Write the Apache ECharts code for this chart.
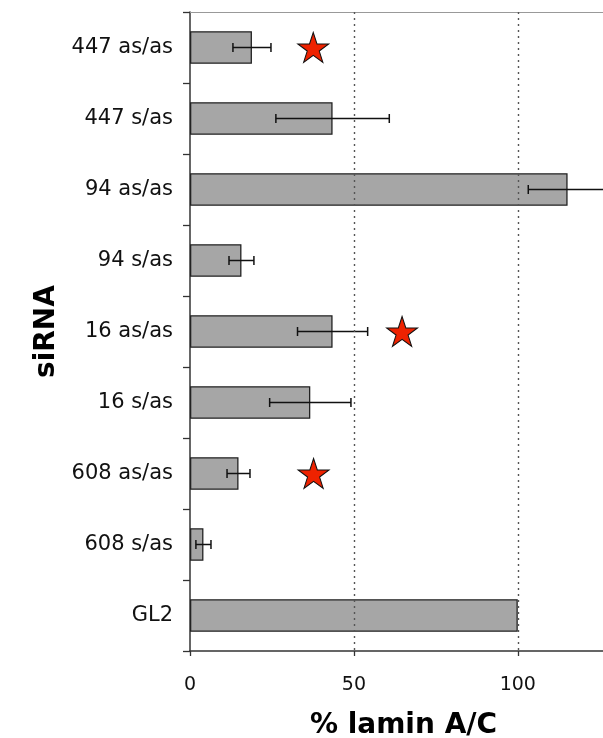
<!DOCTYPE html>
<html>
<head>
<meta charset="utf-8">
<script src="https://cdn.jsdelivr.net/npm/echarts@6/dist/echarts.min.js"></script>
<style>
html,body{margin:0;padding:0;background:#fff;}
#chart{width:603px;height:738px;}
</style>
</head>
<body>
<div id="chart"></div>
<script>
// Categories listed top to bottom
const categories = ['447 as/as', '447 s/as', '94 as/as', '94 s/as', '16 as/as', '16 s/as', '608 as/as', '608 s/as', 'GL2'];
// % lamin A/C
const values = [18.9, 43.5, 115.2, 15.7, 43.5, 36.7, 14.8, 4.1, 100];
// error (+/-)
const errors = [5.8, 17.3, 12.0, 3.8, 10.7, 12.4, 3.5, 2.3, 0];
// significance stars: [x value, category]
const starX = [37.6, 64.7, 37.7];
const starCats = ['447 as/as', '16 as/as', '608 as/as'];
const xTicks = [0, 50, 100];
const gridLines = [50, 100];

const errData = categories.map((c, i) => [i, values[i] - errors[i], values[i] + errors[i], errors[i]]);
const starData = starX.map((x, i) => [x, starCats[i]]);

const chart = echarts.init(document.getElementById('chart'), null, {renderer: 'canvas'});
const font = '"DejaVu Sans", Verdana, sans-serif';
const STAR = 'path://M50,0 L61.8,35.5 L99,35.5 L69,57.5 L80.5,93 L50,71 L19.5,93 L31,57.5 L1,35.5 L38.2,35.5 Z';

chart.setOption({
  animation: false,
  backgroundColor: '#ffffff',
  grid: {left: 190, right: 0, top: 12, bottom: 87, containLabel: false, outerBoundsMode: 'none'},
  xAxis: [{
    type: 'value', min: 0, max: 126, interval: 50, position: 'bottom',
    axisLine: {show: true, lineStyle: {color: '#333', width: 1.5}},
    axisTick: {show: true, length: 5, customValues: xTicks, lineStyle: {color: '#333', width: 1.3}},
    axisLabel: {customValues: xTicks, margin: 25, fontSize: 19, color: '#111', fontFamily: font},
    splitLine: {show: false},
    name: '% lamin A/C', nameLocation: 'middle', nameGap: 61,
    nameTextStyle: {fontSize: 28, fontWeight: 'bold', color: '#000', fontFamily: font, padding: [0, 0, 0, 14]}
  }, {
    type: 'value', min: 0, max: 126, position: 'top',
    axisLine: {show: true, onZero: false, lineStyle: {color: '#999', width: 1}},
    axisTick: {show: false}, axisLabel: {show: false}, splitLine: {show: false}
  }],
  yAxis: {
    type: 'category', data: categories, inverse: true,
    axisLine: {show: true, lineStyle: {color: '#333', width: 1.5}},
    axisTick: {show: true, length: 7, lineStyle: {color: '#333', width: 1.3}},
    axisLabel: {margin: 17, fontSize: 21, color: '#111', fontFamily: font},
    splitLine: {show: false},
    name: 'siRNA', nameLocation: 'middle', nameGap: 129,
    nameTextStyle: {fontSize: 28, fontWeight: 'bold', color: '#000', fontFamily: font}
  },
  series: [{
    type: 'bar', data: values, barWidth: '46%',
    itemStyle: {color: '#a6a6a6', borderColor: '#222', borderWidth: 1.3},
    markLine: {
      silent: true, symbol: 'none', label: {show: false},
      lineStyle: {color: '#555', type: [2, 4], width: 1.4},
      data: gridLines.map(v => ({xAxis: v}))
    },
    z: 2
  }, {
    type: 'custom', clip: true, z: 4,
    data: errData,
    renderItem: function (params, api) {
      if (api.value(3) <= 0) return null;
      const lo = api.coord([api.value(1), api.value(0)]);
      const hi = api.coord([api.value(2), api.value(0)]);
      const y = lo[1], cap = 4.5;
      const style = {stroke: '#111', lineWidth: 1.5, fill: null};
      return {type: 'group', children: [
        {type: 'line', shape: {x1: lo[0], y1: y, x2: hi[0], y2: y}, style: style},
        {type: 'line', shape: {x1: lo[0], y1: y - cap, x2: lo[0], y2: y + cap}, style: style},
        {type: 'line', shape: {x1: hi[0], y1: y - cap, x2: hi[0], y2: y + cap}, style: style}
      ]};
    }
  }, {
    type: 'scatter', data: starData, symbol: STAR, symbolSize: [31, 30], z: 5,
    itemStyle: {color: '#ee2200', borderColor: '#111', borderWidth: 1, opacity: 1}
  }]
});
</script>
</body>
</html>
